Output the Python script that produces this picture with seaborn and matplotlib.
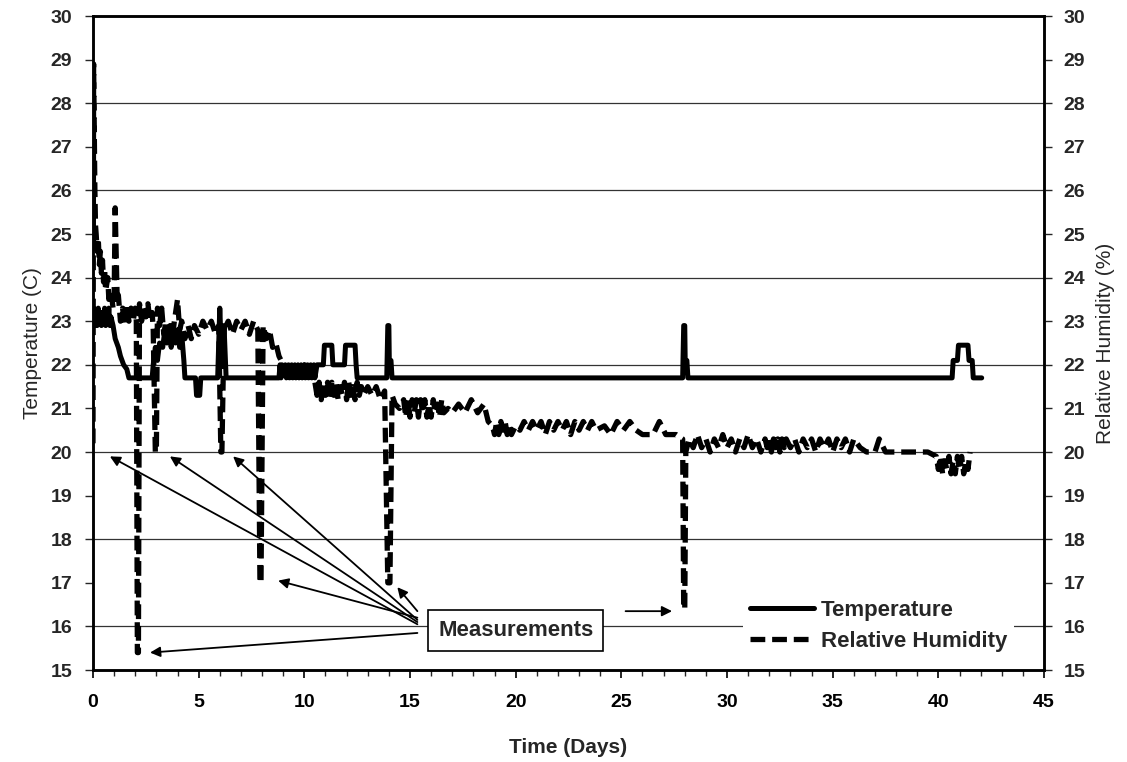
import seaborn as sns
import matplotlib.pyplot as plt
import pandas as pd
from matplotlib.ticker import MultipleLocator

# temperature log (days, deg C)
temp_days = [0.0, 0.05, 0.1, 0.15, 0.2, 0.25, 0.3, 0.35, 0.4, 0.45, 0.5, 0.55, 0.6, 0.65, 0.7, 0.75,
             0.8, 0.85, 0.95, 1.05, 1.2, 1.3, 1.45, 1.6, 1.7, 2.8, 2.85, 2.95, 3.05, 3.15, 3.3, 3.4,
             3.5, 3.6, 3.7, 3.8, 3.9, 4.0, 4.1, 4.2, 4.3, 4.35, 4.85, 4.9, 5.05, 5.1, 5.9, 5.95,
             6.0, 6.1, 6.2, 6.3, 8.8, 8.85, 8.9, 8.95, 9.0, 9.1, 9.15, 9.25, 9.3, 9.4, 9.45, 9.55,
             9.6, 9.7, 9.75, 9.85, 9.9, 10.0, 10.05, 10.15, 10.2, 10.3, 10.35, 10.45, 10.5, 10.6,
             10.9, 10.95, 11.3, 11.35, 11.9, 11.95, 12.4, 12.45, 12.5, 13.9, 13.95, 14.0, 14.02,
             14.1, 14.15, 27.9, 27.95, 28.0, 28.02, 28.1, 28.15, 40.65, 40.7, 40.9, 40.95, 41.4,
             41.45, 41.6, 41.65, 42.05]
temp_c = [23.0, 23.3, 22.9, 23.2, 22.9, 23.3, 23.0, 23.2, 22.9, 23.2, 23.0, 23.3, 22.9, 23.2, 23.0, 23.3,
          22.9, 23.1, 22.9, 22.6, 22.4, 22.2, 22.0, 21.9, 21.7, 21.7, 22.0, 22.4, 22.1, 22.5, 22.4, 22.8,
          22.5, 22.8, 22.4, 22.8, 22.5, 22.8, 22.4, 22.7, 22.1, 21.7, 21.7, 21.3, 21.3, 21.7, 21.7, 22.5,
          23.3, 22.0, 22.9, 21.7, 21.7, 22.0, 21.7, 22.0, 21.8, 22.0, 21.7, 22.0, 21.7, 22.0, 21.7, 22.0,
          21.7, 22.0, 21.7, 22.0, 21.7, 22.0, 21.7, 22.0, 21.7, 22.0, 21.7, 22.0, 21.7, 22.0,
          22.0, 22.45, 22.45, 22.0, 22.0, 22.45, 22.45, 22.0, 21.7, 21.7, 22.9, 22.9, 22.1,
          22.1, 21.7, 21.7, 22.9, 22.9, 22.1, 22.1, 21.7, 21.7, 22.1, 22.1, 22.45, 22.45,
          22.1, 22.1, 21.7, 21.7]

# relative humidity log (days, %)
rh_days = [0.0, 0.03, 0.06, 0.09, 0.12, 0.15, 0.2, 0.25, 0.3, 0.35, 0.4, 0.45, 0.5, 0.55, 0.6, 0.7,
           0.75, 0.85, 0.95, 1.0, 1.05, 1.15, 1.2, 1.3, 1.4, 1.5, 1.6, 1.7, 1.8, 1.9, 2.0, 2.05,
           2.1, 2.15, 2.2, 2.3, 2.4, 2.5, 2.6, 2.7, 2.8, 2.85, 2.95, 3.0, 3.05, 3.15, 3.25, 3.35,
           3.45, 3.55, 3.65, 3.75, 3.85, 4.0, 4.1, 4.2, 4.35, 4.5, 4.65, 4.8, 5.0, 5.2, 5.4, 5.6,
           5.8, 5.95, 6.05, 6.1, 6.2, 6.4, 6.6, 6.8, 7.0, 7.2, 7.4, 7.6, 7.8, 7.9, 7.95, 8.05,
           8.2, 8.35, 8.5, 8.65, 8.8, 9.0, 9.5, 10.0, 10.4, 10.5, 10.6, 10.7, 10.8, 10.9, 11.0, 11.1,
           11.2, 11.3, 11.4, 11.5, 11.6, 11.7, 11.8, 11.9, 12.0, 12.1, 12.2, 12.3, 12.4, 12.5, 12.6,
           12.7, 12.8, 13.0, 13.2, 13.4, 13.6, 13.8, 13.95, 14.05, 14.15, 14.3, 14.5, 14.7, 14.8,
           14.9, 15.0, 15.1, 15.2, 15.3, 15.4, 15.5, 15.6, 15.7, 15.8, 15.9, 16.0, 16.1, 16.2, 16.3,
           16.4, 16.5, 16.6, 16.8, 17.0, 17.3, 17.6, 17.9, 18.2, 18.5, 18.7, 18.9, 19.0, 19.1, 19.2,
           19.3, 19.4, 19.5, 19.6, 19.7, 19.8, 20.0, 20.2, 20.4, 20.6, 20.8, 21.0, 21.2, 21.4, 21.6,
           21.8, 22.0, 22.2, 22.4, 22.6, 22.8, 23.0, 23.2, 23.4, 23.6, 23.8, 24.2, 24.5, 24.8, 25.1,
           25.4, 25.7, 26.0, 26.5, 26.8, 27.1, 27.6, 27.9, 27.95, 28.0, 28.05, 28.2, 28.4, 28.6,
           28.8, 29.0, 29.2, 29.4, 29.6, 29.8, 30.0, 30.2, 30.4, 30.6, 30.8, 31.0, 31.2, 31.4, 31.6,
           31.8, 31.9, 32.0, 32.1, 32.2, 32.3, 32.4, 32.5, 32.6, 32.7, 32.8, 33.0, 33.2, 33.4, 33.6,
           33.8, 34.0, 34.2, 34.4, 34.6, 34.8, 35.0, 35.2, 35.4, 35.6, 35.8, 36.0, 36.3, 36.6, 37.0,
           37.2, 37.5, 38.0, 38.5, 39.0, 39.5, 39.9, 40.0, 40.1, 40.2, 40.3, 40.4, 40.5, 40.6, 40.7,
           40.8, 40.9, 41.0, 41.1, 41.2, 41.3, 41.4, 41.5]
rh_pct = [20.2, 28.9, 27.5, 26.0, 25.2, 25.0, 24.6, 24.9, 24.3, 24.6, 24.1, 24.4, 23.9, 24.2, 23.7, 24.0,
          23.5, 23.7, 23.3, 23.5, 25.6, 23.4, 23.6, 23.0, 23.3, 22.9, 23.4, 23.0, 23.3, 23.0, 23.3, 23.0,
          15.4, 15.4, 23.4, 23.0, 23.3, 23.1, 23.4, 23.0, 23.2, 22.8, 20.0, 20.0, 23.3, 22.9, 23.3, 22.7,
          23.0, 22.6, 22.9, 22.6, 23.0, 23.5, 22.8, 23.0, 22.6, 22.9, 22.6, 22.9, 22.7, 23.0, 22.8, 23.0,
          22.7, 22.9, 20.0, 20.0, 22.8, 23.0, 22.7, 23.0, 22.8, 23.0, 22.7, 23.0, 22.8, 17.0, 17.0, 22.9,
          22.6, 22.8, 22.4, 22.5, 22.2, 22.0, 21.9, 22.0, 21.8, 21.6, 21.3, 21.6, 21.2, 21.6, 21.3, 21.6,
          21.2, 21.6, 21.3, 21.6, 21.2, 21.5, 21.3, 21.6, 21.2, 21.6, 21.3, 21.5, 21.2, 21.6, 21.3,
          21.5, 21.3, 21.5, 21.3, 21.5, 21.2, 21.4, 17.0, 17.0, 21.3, 21.1, 21.0, 21.2, 20.8,
          21.2, 20.8, 21.2, 20.9, 21.2, 20.8, 21.2, 20.9, 21.2, 20.8, 21.1, 20.8, 21.2, 20.9, 21.1,
          20.8, 21.2, 20.9, 21.0, 20.9, 21.1, 20.9, 21.2, 20.9, 21.1, 20.7, 20.6, 20.4, 20.7, 20.4,
          20.7, 20.5, 20.7, 20.4, 20.6, 20.4, 20.6, 20.5, 20.7, 20.5, 20.7, 20.5, 20.7, 20.4, 20.7,
          20.5, 20.7, 20.5, 20.7, 20.4, 20.7, 20.5, 20.7, 20.5, 20.7, 20.5, 20.6, 20.4, 20.7, 20.5,
          20.7, 20.5, 20.4, 20.4, 20.7, 20.4, 20.4, 20.3, 16.4, 16.4, 20.0, 20.3, 20.1, 20.4,
          20.1, 20.3, 20.0, 20.3, 20.1, 20.4, 20.1, 20.3, 20.0, 20.3, 20.1, 20.4, 20.1, 20.3, 20.0,
          20.3, 20.1, 20.3, 20.0, 20.3, 20.1, 20.3, 20.0, 20.3, 20.1, 20.3, 20.1, 20.3, 20.0, 20.3,
          20.1, 20.3, 20.0, 20.3, 20.1, 20.3, 20.0, 20.3, 20.1, 20.3, 20.0, 20.3, 20.1, 20.0, 20.0,
          20.3, 20.0, 20.0, 20.0, 20.0, 20.0, 19.9, 19.6, 19.9, 19.5, 19.8, 19.6, 19.9, 19.5, 19.8,
          19.5, 19.9, 19.6, 19.9, 19.5, 19.8, 19.6, 20.0]

# where the "Measurements" arrows point (day, value)
meas_days = [0.8, 3.64, 6.63, 8.76, 14.4, 2.7]
meas_vals = [19.9, 19.9, 19.9, 17.05, 16.9, 15.4]
meas_tail = [16.05, 16.1, 16.15, 16.2, 16.35, 15.85]

sns.set_theme(style="white")
plt.rcParams['font.family'] = ['Liberation Sans', 'DejaVu Sans']

temp_df = pd.DataFrame({"Time (Days)": temp_days, "Temperature": temp_c})
rh_df = pd.DataFrame({"Time (Days)": rh_days, "Relative Humidity": rh_pct})

fig = plt.figure(figsize=(11.27, 7.62), dpi=100)
ax = fig.add_axes([0.0825, 0.1207, 0.8439, 0.8583])
ax2 = ax.twinx()

sns.lineplot(data=temp_df, x="Time (Days)", y="Temperature", estimator=None, sort=False,
             color="black", lw=3.6, ax=ax, label="Temperature", legend=False)
sns.lineplot(data=rh_df, x="Time (Days)", y="Relative Humidity", estimator=None, sort=False,
             color="black", lw=3.8, ax=ax2, label="Relative Humidity", legend=False)
ax2.lines[-1].set_dashes([2.8, 1.3])

for a in (ax, ax2):
    a.set_xlim(0, 45)
    a.set_ylim(15, 30)
    a.yaxis.set_major_locator(MultipleLocator(1))
    for s in a.spines.values():
        s.set_color("black")
        s.set_linewidth(1.8)

for v in range(16, 30, 2):
    ax.axhline(v, color="#333333", lw=0.9, zorder=0)

ax.xaxis.set_major_locator(MultipleLocator(5))
ax.xaxis.set_minor_locator(MultipleLocator(1))
ax.tick_params(axis="x", which="major", direction="out", length=6, width=1.2, pad=11,
               labelsize=14, bottom=True, colors="black")
ax.tick_params(axis="x", which="minor", direction="out", length=4, width=1, bottom=True)
ax.tick_params(axis="y", which="major", direction="out", length=6, width=1, pad=9,
               labelsize=14, left=True)
ax2.tick_params(axis="y", which="major", direction="out", length=6, width=1, pad=8,
                labelsize=14, right=True)
for lab in ax.get_xticklabels() + ax.get_yticklabels() + ax2.get_yticklabels():
    lab.set_fontweight("bold")

ax.set_xlabel("Time (Days)", fontsize=15, fontweight="bold", labelpad=20)
ax.set_ylabel("Temperature (C)", fontsize=15, labelpad=6)
ax2.set_ylabel("Relative Humidity (%)", fontsize=15, labelpad=8)

# measurement callouts
ax2.text(20.0, 15.9, "Measurements", ha="center", va="center", fontsize=16, fontweight="bold",
         bbox=dict(boxstyle="square,pad=0.45", fc="white", ec="black", lw=1.2), zorder=5)
for d, v, t in zip(meas_days, meas_vals, meas_tail):
    ax2.annotate("", xy=(d, v), xytext=(15.35, t),
                 arrowprops=dict(arrowstyle="-|>", color="black", lw=1.3, mutation_scale=15,
                                 shrinkA=0, shrinkB=0))
ax2.annotate("", xy=(27.4, 16.35), xytext=(25.2, 16.35),
             arrowprops=dict(arrowstyle="-|>", color="black", lw=1.3, mutation_scale=15,
                             shrinkA=0, shrinkB=0))

handles = ax.get_lines()[:1] + ax2.get_lines()[:1]
leg = ax2.legend(handles, ["Temperature", "Relative Humidity"], loc="upper left",
                 bbox_to_anchor=(0.672, 0.135), frameon=True, fancybox=False, fontsize=16,
                 handlelength=2.9, handletextpad=0.3, borderpad=0.3, labelspacing=0.45)
leg.get_frame().set_edgecolor("none")
leg.get_frame().set_facecolor("white")
leg.get_frame().set_alpha(1)
for t in leg.get_texts():
    t.set_fontweight("bold")

fig.savefig("out.png", dpi=100)
